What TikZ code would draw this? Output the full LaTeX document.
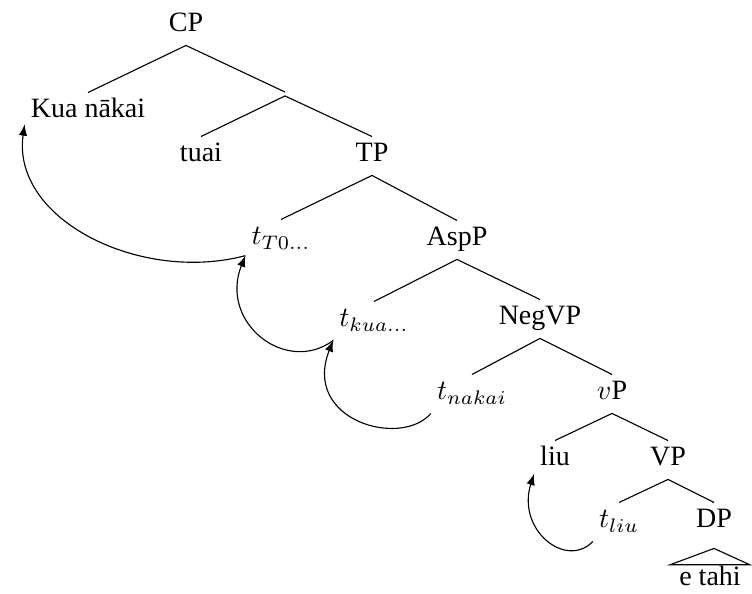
\documentclass[tikz,border=0pt]{standalone}
\usepackage[no-math]{fontspec}
\setmainfont{Liberation Serif}

\tikzset{
  cat/.style={inner sep=2pt, text height=6.9pt, text depth=2.6pt, anchor=base},
  move/.style={-latex},
}

\begin{document}
\begin{tikzpicture}[x=0.357pt,y=-0.357pt]
  \useasboundingbox (0,0) rectangle (752,594);

  % Categories (placed on their baselines)
  \node[cat] (CP)    at (186,32)  {CP};
  \node[cat] (Kua)   at (88,118)  {Kua nākai};
  \node[inner sep=0pt] (Cbar) at (285,94) {};
  \node[cat] (tuai)  at (201,162) {tuai};
  \node[cat] (TP)    at (372,162) {TP};
  \node[cat] (tT)    at (281,245) {$t_{T0...}$};
  \node[cat] (AspP)  at (457,246) {AspP};
  \node[cat] (tkua)  at (374,327) {$t_{kua...}$};
  \node[cat] (NegVP) at (540,325) {NegVP};
  \node[cat] (tnak)  at (472,400) {$t_{nakai}$};
  \node[cat] (vP)    at (612,400) {$v$P};
  \node[cat] (liu)   at (555,466) {liu};
  \node[cat] (VP)    at (668,466) {VP};
  \node[cat] (tliu)  at (619,528) {$t_{liu}$};
  \node[cat] (DP)    at (714,528) {DP};
  \node[cat,inner ysep=0.5pt,inner xsep=3pt] (etahi) at (710,586) {e tahi};

  % Branches
  \foreach \a/\b in {CP/Kua,CP/Cbar,Cbar/tuai,Cbar/TP,TP/tT,TP/AspP,AspP/tkua,AspP/NegVP,
                     NegVP/tnak,NegVP/vP,vP/liu,vP/VP,VP/tliu,VP/DP}
    \draw (\a.south) -- (\b.north);

  % roof over DP
  \draw ([yshift=-2.5pt]DP.south) -- (etahi.north west) -- (etahi.north east) -- cycle;

  % Movement
  \draw[move] ([yshift=1pt]tT.south west) .. controls +(-105,28) and +(-14,95) .. ([yshift=2.5pt]Kua.south west);
  \draw[move] (tkua.south west) .. controls +(-47,35) and +(-27,67) .. ([yshift=1pt]tT.south west);
  \draw[move] (tnak.south west) .. controls +(-30,35) and +(-32,80) .. (tkua.south west);
  \draw[move] (tliu.south west) .. controls +(-27,28) and +(-18,56) .. ([yshift=2pt]liu.south west);

\end{tikzpicture}
\end{document}
